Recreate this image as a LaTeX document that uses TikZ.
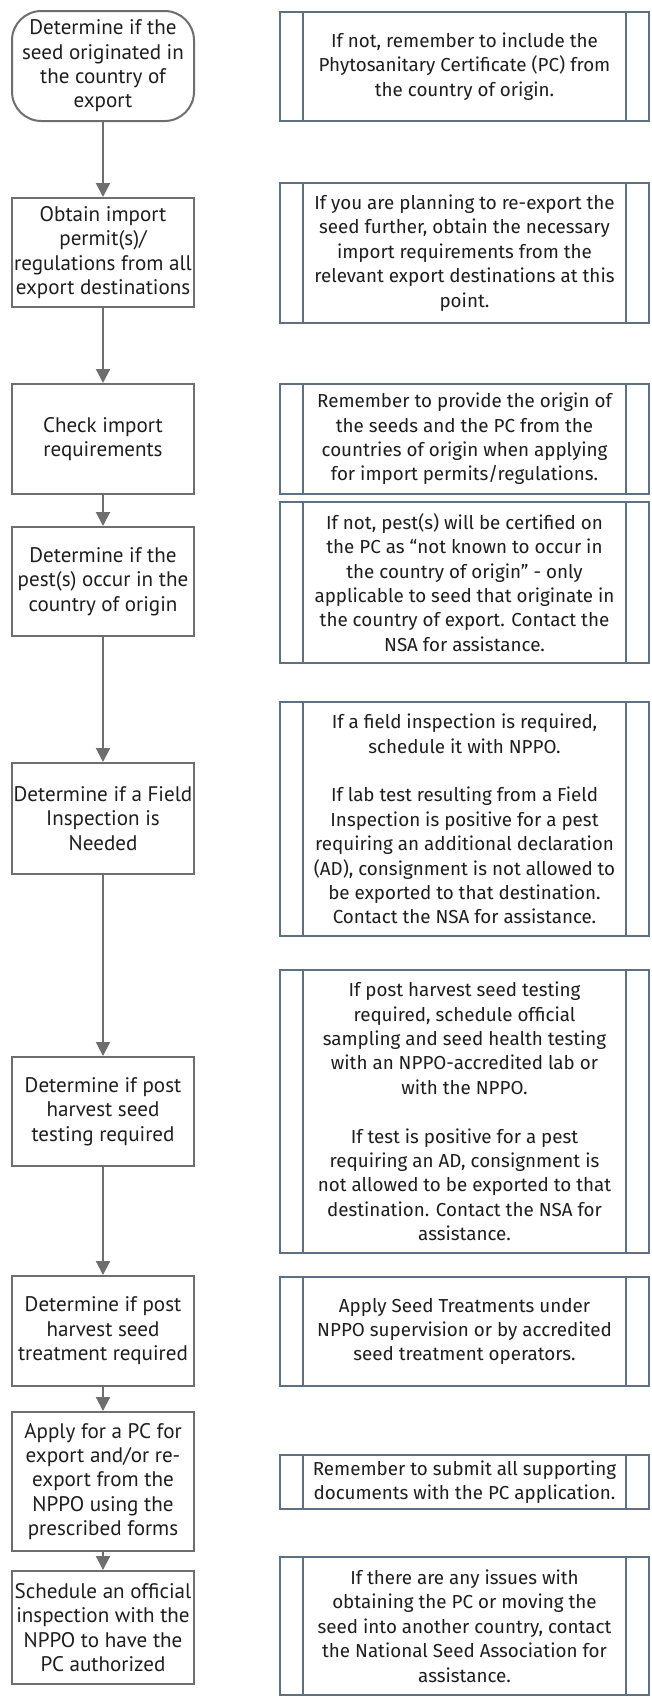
\documentclass[tikz,border=0pt]{standalone}
\usepackage{fontspec}
\setmainfont{Fira Sans}
\newfontfamily\leftfont{PT Sans}
\usetikzlibrary{arrows.meta}
\definecolor{lgray}{HTML}{6E6E6E}
\definecolor{rgray}{HTML}{5F7180}
\definecolor{txt}{HTML}{1E1E1E}
\tikzset{
  lbox/.style={draw=lgray, line width=1.5pt, fill=white, minimum width=136.5pt,
    minimum height=#1*0.75pt, inner sep=0pt, align=center, text=txt,
    font=\leftfont\fontsize{15.8pt}{18.3pt}\selectfont},
  startbox/.style={lbox=#1, rounded corners=22pt},
  rbox/.style={draw=rgray, line width=1.5pt, fill=white, minimum width=276.75pt,
    minimum height=#1*0.75pt, inner sep=0pt, align=center, text=txt,
    font=\fontsize{14.1pt}{18.3pt}\selectfont,
    path picture={
      \draw[rgray, line width=1.5pt]
        ([xshift=17.25pt]path picture bounding box.north west) --
        ([xshift=17.25pt]path picture bounding box.south west);
      \draw[rgray, line width=1.5pt]
        ([xshift=-17.25pt]path picture bounding box.north east) --
        ([xshift=-17.25pt]path picture bounding box.south east);
    }},
  flow/.style={draw=lgray, line width=1.5pt, -{Triangle[length=10.5pt,width=10.5pt]}}
}
\begin{document}
\begin{tikzpicture}[x=0.75pt, y=-0.75pt]
\useasboundingbox[fill=white] (0,0) rectangle (652,1697);

% left column
\node[startbox=110] (l1) at (103,66) {Determine if the\\seed originated in\\the country of\\export};
\node[lbox=109] (l2) at (103,252.5) {Obtain import\\permit(s)/\\regulations from all\\export destinations};
\node[lbox=110] (l3) at (103,439) {Check import\\requirements};
\node[lbox=109] (l4) at (103,581.5) {Determine if the\\pest(s) occur in the\\country of origin};
\node[lbox=111] (l5) at (103,818.5) {Determine if a Field\\Inspection is\\Needed};
\node[lbox=109] (l6) at (103,1111.5) {Determine if post\\harvest seed\\testing required};
\node[lbox=110] (l7) at (103,1331) {Determine if post\\harvest seed\\treatment required};
\node[lbox=139] (l8) at (103,1481.5) {Apply for a PC for\\export and/or re-\\export from the\\NPPO using the\\prescribed forms};
\node[lbox=113] (l9) at (103,1627.5) {Schedule an official\\inspection with the\\NPPO to have the\\PC authorized};

\draw[flow] (l1) -- (l2);
\draw[flow] (l2) -- (l3);
\draw[flow] (l3) -- (l4);
\draw[flow] (l4) -- (l5);
\draw[flow] (l5) -- (l6);
\draw[flow] (l6) -- (l7);
\draw[flow] (l7) -- (l8);
\draw[flow] (l8) -- (l9);

% right column
\node[rbox=109] (r1) at (464.5,66.5) {If not, remember to include the\\Phytosanitary Certificate (PC) from\\the country of origin.};
\node[rbox=140] (r2) at (464.5,253) {If you are planning to re-export the\\seed further, obtain the necessary\\import requirements from the\\relevant export destinations at this\\point.};
\node[rbox=110] (r3) at (464.5,439) {Remember to provide the origin of\\the seeds and the PC from the\\countries of origin when applying\\for import permits/regulations.};
\node[rbox=161] (r4) at (464.5,582.5) {If not, pest(s) will be certified on\\the PC as “not known to occur in\\the country of origin" - only\\applicable to seed that originate in\\the country of export. Contact the\\NSA for assistance.};
\node[rbox=234] (r5) at (464.5,819) {If a field inspection is required,\\schedule it with NPPO.\\[18.3pt]If lab test resulting from a Field\\Inspection is positive for a pest\\requiring an additional declaration\\(AD), consignment is not allowed to\\be exported to that destination.\\Contact the NSA for assistance.};
\node[rbox=283] (r6) at (464.5,1111.5) {If post harvest seed testing\\required, schedule official\\sampling and seed health testing\\with an NPPO-accredited lab or\\with the NPPO.\\[18.3pt]If test is positive for a pest\\requiring an AD, consignment is\\not allowed to be exported to that\\destination. Contact the NSA for\\assistance.};
\node[rbox=109] (r7) at (464.5,1331.5) {Apply Seed Treatments under\\NPPO supervision or by accredited\\seed treatment operators.};
\node[rbox=54] (r8) at (464.5,1482) {Remember to submit all supporting\\documents with the PC application.};
\node[rbox=138] (r9) at (464.5,1626) {If there are any issues with\\obtaining the PC or moving the\\seed into another country, contact\\the National Seed Association for\\assistance.};
\end{tikzpicture}
\end{document}
